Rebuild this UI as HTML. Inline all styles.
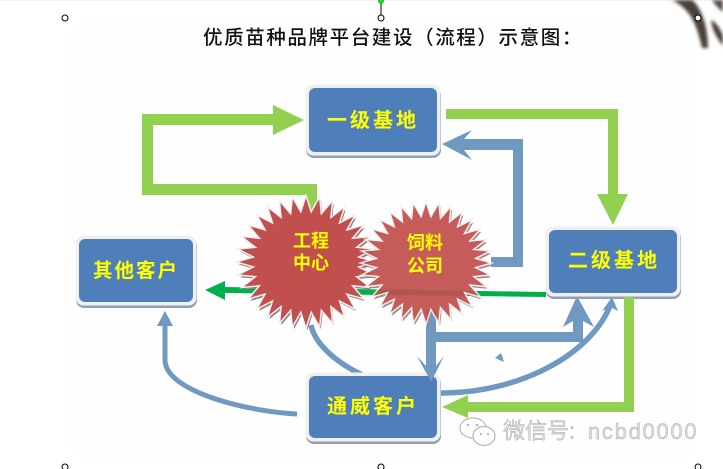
<!DOCTYPE html>
<html lang="zh">
<head>
<meta charset="utf-8">
<title>优质苗种品牌平台建设（流程）示意图</title>
<style>
html,body{margin:0;padding:0;background:#fff;width:723px;height:469px;overflow:hidden}
svg{display:block;position:absolute;left:0;top:0}
text{font-family:"Liberation Sans","Noto Sans CJK SC",sans-serif}
.lab{fill:#ffff00;font-size:20px;font-weight:700;text-anchor:middle;dominant-baseline:central}
.lab4{letter-spacing:3px}
.lab2{letter-spacing:0;font-size:18px}
</style>
</head>
<body>
<svg width="723" height="469" viewBox="0 0 723 469" xmlns="http://www.w3.org/2000/svg">
<defs>
<filter id="b1" x="-5%" y="-5%" width="110%" height="110%"><feGaussianBlur stdDeviation="0.35"/></filter>
<filter id="b2" x="-30%" y="-30%" width="160%" height="160%"><feGaussianBlur stdDeviation="1.5"/></filter>
</defs>

<rect x="0" y="0" width="723" height="1" fill="#f2f2f2"/>
<rect x="67" y="19" width="629" height="445" rx="30" fill="#fefefe"/>

<!-- fish brush marks, top right -->
<g filter="url(#b2)">
<path d="M672 0 C688 8 696 20 702 48 L708 48 C708 28 702 8 692 0 Z" fill="#4a4038"/>
<path d="M711 20 C716 22 720 28 723 36 L723 46 C717 38 712 30 711 20 Z" fill="#4a4038"/>
<path d="M712 0 C716 6 720 10 723 12 L723 0 Z" fill="#5a5048"/>
</g>

<!-- title -->
<text x="203" y="38" font-size="19.5" font-weight="500" fill="#111" letter-spacing="1.65" dominant-baseline="central" textLength="380" lengthAdjust="spacing">优质苗种品牌平台建设（流程）示意图：</text>

<!-- selection handles -->
<line x1="381" y1="2" x2="381" y2="18" stroke="#000" stroke-width="1"/>
<circle cx="381" cy="1" r="2.5" fill="#22dd22" stroke="#0a0" stroke-width=".7"/>
<g fill="#fff" stroke="#000" stroke-width="1">
<circle cx="65" cy="18" r="3"/><circle cx="381" cy="18" r="3"/><circle cx="698" cy="18" r="3"/>
<circle cx="65" cy="467" r="3"/><circle cx="381" cy="467" r="3"/><circle cx="698" cy="467" r="3"/>
</g>

<g filter="url(#b1)">
<!-- green arrows -->
<g fill="#92d050">
<path d="M317 210 V184 H153 V125 H273 V135 L304 120 L273 105 V114 H142 V195 H306 V210 Z"/>
<path d="M446 109 H618 V194 H628 L613 225 L597 194 H608 V119 H446 Z"/>
<path d="M634 297 V412 H468 V418 L442 407 L468 395 V402 H624 V297 Z"/>
</g>
<!-- dark green -->
<path d="M546 292 L546 297 L225 293 V300 L205 290 L225 281 V287 Z" fill="#00b050"/>

<!-- blue connectors -->
<g fill="#7099c1">
<path d="M491 257 H513 V150 H464 L472 160 L442 144 L472 130 L464 139 H523 V267 H491 Z"/>
<path d="M426 310 H436 V332 H573 V321 L563 327 L577 296 L594 327 L583 321 V342 H436 V366 L444 356 L431 382 L417 356 L426 366 Z"/>
<polygon points="495,358 501,353 504,362"/>
<polygon points="612,297 618,311 610,307 602,311"/>
<polygon points="165,311 173,326 157,326"/>
</g>
<g fill="none" stroke="#7099c1">
<path d="M311 325 C318 360 385 395 445 393 C520 392 590 355 610 306" stroke-width="5.5"/>
<path d="M297 414 C250 412 165 392 165 360 L165 322" stroke-width="5"/>
</g>

<!-- boxes -->
<g id="boxes">
<rect x="306" y="87" width="135" height="71" rx="8" fill="#8e9fb6"/>
<rect x="305.500" y="84.500" width="135" height="71" rx="8" fill="#f0f0f0"/>
<rect x="309" y="88" width="128" height="64" rx="6" fill="#4f7fbb"/>

<rect x="76" y="238" width="121" height="70" rx="8" fill="#8e9fb6"/>
<rect x="75.500" y="235.500" width="121" height="70" rx="8" fill="#f0f0f0"/>
<rect x="79" y="239" width="114" height="63" rx="6" fill="#4f7fbb"/>

<rect x="306" y="375" width="135" height="69" rx="8" fill="#8e9fb6"/>
<rect x="305.500" y="372.500" width="135" height="69" rx="8" fill="#f0f0f0"/>
<rect x="309" y="376" width="128" height="62" rx="6" fill="#4f7fbb"/>

<rect x="546" y="229" width="135" height="70" rx="8" fill="#8e9fb6"/>
<rect x="545.500" y="226.500" width="135" height="70" rx="8" fill="#f0f0f0"/>
<rect x="549" y="230" width="128" height="63" rx="6" fill="#4f7fbb"/>
</g>
<!-- arrow tips over boxes -->
<polygon points="431,382 424,368 438,368" fill="#7099c1"/>
<rect x="624" y="297" width="10" height="6" fill="#92d050"/>

<!-- stars -->
<g id="star1"></g>
<g id="star2" opacity="0.92"></g>
</g>

<!-- labels -->
<g filter="url(#b1)">
<text class="lab lab4" x="373" y="121">一级基地</text>
<text class="lab" x="136" y="271" style="letter-spacing:2px;font-size:19.5px">其他客户</text>
<text class="lab lab4" x="373" y="407">通威客户</text>
<text class="lab lab4" x="614" y="261">二级基地</text>
<text class="lab lab2" x="311" y="241">工程</text>
<text class="lab lab2" x="311" y="263">中心</text>
<text class="lab lab2" x="425" y="243">饲料</text>
<text class="lab lab2" x="425" y="266">公司</text>
</g>

<!-- watermark -->
<g filter="url(#b1)">
<g fill="#fff" stroke="#b5b5b5" stroke-width="1.2">
<ellipse cx="473" cy="428" rx="13" ry="10"/>
<ellipse cx="484" cy="436" rx="11" ry="9.500"/>
</g>
<g fill="#b5b5b5"><circle cx="468" cy="425" r="1.300"/><circle cx="477" cy="425" r="1.300"/><circle cx="481" cy="434" r="1.100"/><circle cx="488" cy="434" r="1.100"/></g>
<text x="503" y="431" font-size="22" fill="#dcdcdc" dominant-baseline="central" stroke="#a8a8a8" stroke-width=".4">微信号: <tspan x="588" letter-spacing="1.7">ncbd0000</tspan></text>
</g>
</svg>
<script>
(function(){
var NS="http://www.w3.org/2000/svg";
function pts(cx,cy,rx,ry,irx,iry,n){
  var a=[];
  for(var i=0;i<n*2;i++){
    var t=-Math.PI/2+i*Math.PI/n,o=i%2==0;
    a.push((cx+Math.cos(t)*(o?rx:irx)).toFixed(1)+","+(cy+Math.sin(t)*(o?ry:iry)).toFixed(1));
  }
  return a.join(" ");
}
function star(id,cx,cy,rx,ry,fill){
  var g=document.getElementById(id),p=pts(cx,cy,rx,ry,rx*0.76,ry*0.76,32);
  var layers=[
    {f:"#9c7f80",s:"#9c7f80",w:1,dx:1.5,dy:2.5},
    {f:"#f2f0f0",s:"#f2f0f0",w:3,dx:0,dy:0},
    {f:fill,s:"none",w:0,dx:0,dy:0}
  ];
  layers.forEach(function(l){
    var e=document.createElementNS(NS,"polygon");
    e.setAttribute("points",p);e.setAttribute("fill",l.f);
    e.setAttribute("stroke",l.s);e.setAttribute("stroke-width",l.w);
    e.setAttribute("stroke-linejoin","miter");
    e.setAttribute("transform","translate("+l.dx+","+l.dy+")");
    g.appendChild(e);
  });
}
star("star1",306,262,67,64,"#c0504d");
star("star2",426,263,63,59,"#c0504d");
})();
</script>
</body>
</html>
